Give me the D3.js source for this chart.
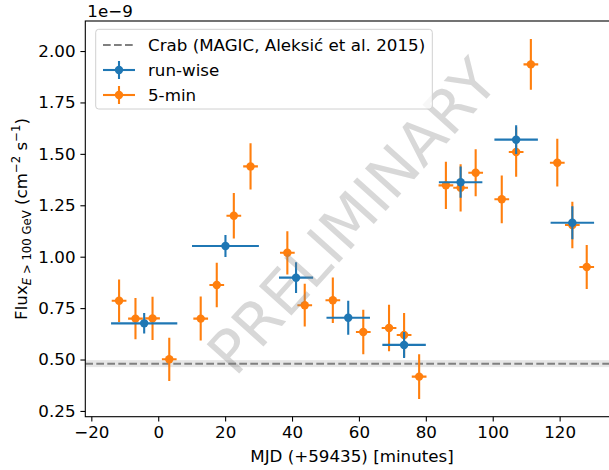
<!DOCTYPE html>
<html>
<head>
<meta charset="utf-8">
<script src="https://cdn.jsdelivr.net/npm/d3@7"></script>
<style>
  body { margin: 0; background: #fff; }
  text { font-family: "DejaVu Sans", sans-serif; }
</style>
</head>
<body>
<div id="chart"></div>
<script>
// run-wise points (minutes after MJD 59435, flux in 1e-9 cm^-2 s^-1)
const runT    = [-4.2, 20.1, 41.2, 56.8, 73.5, 90.4, 107.0, 123.8];
const runTErr = [9.9, 10.0, 5.1, 6.5, 6.5, 6.5, 6.5, 6.5];
const runFlux = [0.676, 1.052, 0.898, 0.703, 0.571, 1.362, 1.569, 1.165];
const runErr  = [0.050, 0.054, 0.075, 0.083, 0.063, 0.076, 0.070, 0.080];

// 5-min bins
const binT    = [-11.7, -6.8, -1.7, 3.3, 12.7, 17.5, 22.6, 27.6, 38.6, 43.8, 52.2, 61.3,
                 69.0, 73.5, 78.0, 86.0, 90.4, 94.9, 102.7, 107.0, 111.4, 119.3, 123.8, 128.1];
const binFlux = [0.786, 0.699, 0.700, 0.501, 0.699, 0.862, 1.199, 1.439, 1.019, 0.764, 0.788, 0.634,
                 0.653, 0.619, 0.417, 1.347, 1.335, 1.408, 1.279, 1.509, 1.935, 1.457, 1.154, 0.950];
const binErr  = [0.103, 0.100, 0.105, 0.105, 0.107, 0.108, 0.111, 0.112, 0.105, 0.104, 0.111, 0.108,
                 0.113, 0.107, 0.109, 0.115, 0.115, 0.114, 0.116, 0.120, 0.123, 0.116, 0.113, 0.107];
const binTErr = 2.2;

// Crab reference level
const crabFlux = 0.48;
const crabErr = 0.017;

const xTicks = [-20, 0, 20, 40, 60, 80, 100, 120];
const yTicks = [0.25, 0.50, 0.75, 1.00, 1.25, 1.50, 1.75, 2.00];

const legendLabels = ["Crab (MAGIC, Aleksić et al. 2015)", "run-wise", "5-min"];

const blue = "#1f77b4";
const orange = "#ff7f0e";
const fs = 16.7;

const width = 609, height = 470;
const plot = { left: 85.3, top: 21, right: 616.5, bottom: 416.7 };

const svg = d3.select("#chart").append("svg")
    .attr("width", width)
    .attr("height", height);

const x = d3.scaleLinear().domain([-21.8, 137]).range([plot.left, plot.right]);
const y = d3.scaleLinear().domain([0.222, 2.146]).range([plot.bottom, plot.top]);

svg.append("clipPath").attr("id", "clip")
  .append("rect")
    .attr("x", plot.left).attr("y", plot.top)
    .attr("width", plot.right - plot.left).attr("height", plot.bottom - plot.top);

const g = svg.append("g").attr("clip-path", "url(#clip)");

// crab band + dashed line
g.append("rect")
    .attr("x", plot.left).attr("width", plot.right - plot.left)
    .attr("y", y(crabFlux + crabErr))
    .attr("height", y(crabFlux - crabErr) - y(crabFlux + crabErr))
    .attr("fill", "#808080").attr("opacity", 0.2);
g.append("line")
    .attr("x1", plot.left).attr("x2", plot.right)
    .attr("y1", y(crabFlux)).attr("y2", y(crabFlux))
    .attr("stroke", "#808080").attr("stroke-width", 2)
    .attr("stroke-dasharray", "7.7,3.3");

function errorbars(sel, xs, xe, ys, ye, color) {
    const grp = sel.append("g");
    const pts = xs.map((v, i) => ({ t: v, te: Array.isArray(xe) ? xe[i] : xe, f: ys[i], fe: ye[i] }));
    grp.selectAll(".h").data(pts).enter().append("line")
        .attr("x1", d => x(d.t - d.te)).attr("x2", d => x(d.t + d.te))
        .attr("y1", d => y(d.f)).attr("y2", d => y(d.f))
        .attr("stroke", color).attr("stroke-width", 2.1);
    grp.selectAll(".v").data(pts).enter().append("line")
        .attr("x1", d => x(d.t)).attr("x2", d => x(d.t))
        .attr("y1", d => y(d.f - d.fe)).attr("y2", d => y(d.f + d.fe))
        .attr("stroke", color).attr("stroke-width", 2.1);
    grp.selectAll("circle").data(pts).enter().append("circle")
        .attr("cx", d => x(d.t)).attr("cy", d => y(d.f))
        .attr("r", 4.2).attr("fill", color);
}

errorbars(g, binT, binTErr, binFlux, binErr, orange);
errorbars(g, runT, runTErr, runFlux, runErr, blue);

// watermark
svg.append("text")
    .attr("transform", "translate(352,216) rotate(-48)")
    .attr("text-anchor", "middle")
    .attr("dy", "0.36em")
    .attr("font-size", 60)
    .attr("fill", "#808080")
    .attr("opacity", 0.3)
    .text("PRELIMINARY");

// spines
svg.append("rect")
    .attr("x", plot.left).attr("y", plot.top)
    .attr("width", plot.right - plot.left).attr("height", plot.bottom - plot.top)
    .attr("fill", "none").attr("stroke", "#000").attr("stroke-width", 1.1);

// axes
const xAxis = svg.append("g")
    .attr("transform", `translate(0,${plot.bottom})`)
    .call(d3.axisBottom(x).tickValues(xTicks).tickSize(4.9).tickPadding(4.9).tickFormat(d3.format("d")));
const yAxis = svg.append("g")
    .attr("transform", `translate(${plot.left},0)`)
    .call(d3.axisLeft(y).tickValues(yTicks).tickSize(4.9).tickPadding(4.9).tickFormat(d3.format(".2f")));
[xAxis, yAxis].forEach(a => {
    a.select(".domain").remove();
    a.selectAll(".tick line").attr("stroke", "#000").attr("stroke-width", 1.1);
    a.selectAll(".tick text").attr("font-size", fs).attr("fill", "#000")
        .attr("font-family", "DejaVu Sans, sans-serif");
});

// offset text
svg.append("text")
    .attr("x", plot.left + 2).attr("y", 17)
    .attr("font-size", fs)
    .text("1e\u22129");

// x label
svg.append("text")
    .attr("x", 352).attr("y", 462)
    .attr("text-anchor", "middle")
    .attr("font-size", fs)
    .text("MJD (+59435) [minutes]");

// y label
const sub = 11.7;
const yl = svg.append("text")
    .attr("transform", "translate(27,219) rotate(-90)")
    .attr("text-anchor", "middle")
    .attr("font-size", fs);
yl.append("tspan").text("Flux");
yl.append("tspan").attr("dy", 4).attr("font-size", sub).attr("font-style", "italic").text("E");
yl.append("tspan").attr("font-size", sub).text(" > 100 GeV");
yl.append("tspan").attr("dy", -4).text(" (cm");
yl.append("tspan").attr("dy", -7).attr("font-size", sub).text("\u22122");
yl.append("tspan").attr("dy", 7).text(" s");
yl.append("tspan").attr("dy", -7).attr("font-size", sub).text("\u22121");
yl.append("tspan").attr("dy", 7).text(")");

// legend
const lg = svg.append("g");
lg.append("rect")
    .attr("x", 95.7).attr("y", 29.3).attr("width", 336.6).attr("height", 79.7)
    .attr("rx", 3).attr("fill", "#fff").attr("fill-opacity", 0.8)
    .attr("stroke", "#d0d0d0").attr("stroke-width", 1);
const rowY = [45, 70, 95];
lg.append("line")
    .attr("x1", 103).attr("x2", 135).attr("y1", rowY[0]).attr("y2", rowY[0])
    .attr("stroke", "#808080").attr("stroke-width", 2).attr("stroke-dasharray", "7.7,3.3");
[blue, orange].forEach((c, i) => {
    const cy = rowY[i + 1];
    lg.append("line").attr("x1", 103).attr("x2", 135).attr("y1", cy).attr("y2", cy)
        .attr("stroke", c).attr("stroke-width", 2.1);
    lg.append("line").attr("x1", 119).attr("x2", 119).attr("y1", cy - 9).attr("y2", cy + 9)
        .attr("stroke", c).attr("stroke-width", 2.1);
    lg.append("circle").attr("cx", 119).attr("cy", cy).attr("r", 4.2).attr("fill", c);
});
lg.selectAll(".lt").data(legendLabels).enter().append("text")
    .attr("x", 148).attr("y", (d, i) => rowY[i] + 6)
    .attr("font-size", fs)
    .text(d => d);
</script>
</body>
</html>
